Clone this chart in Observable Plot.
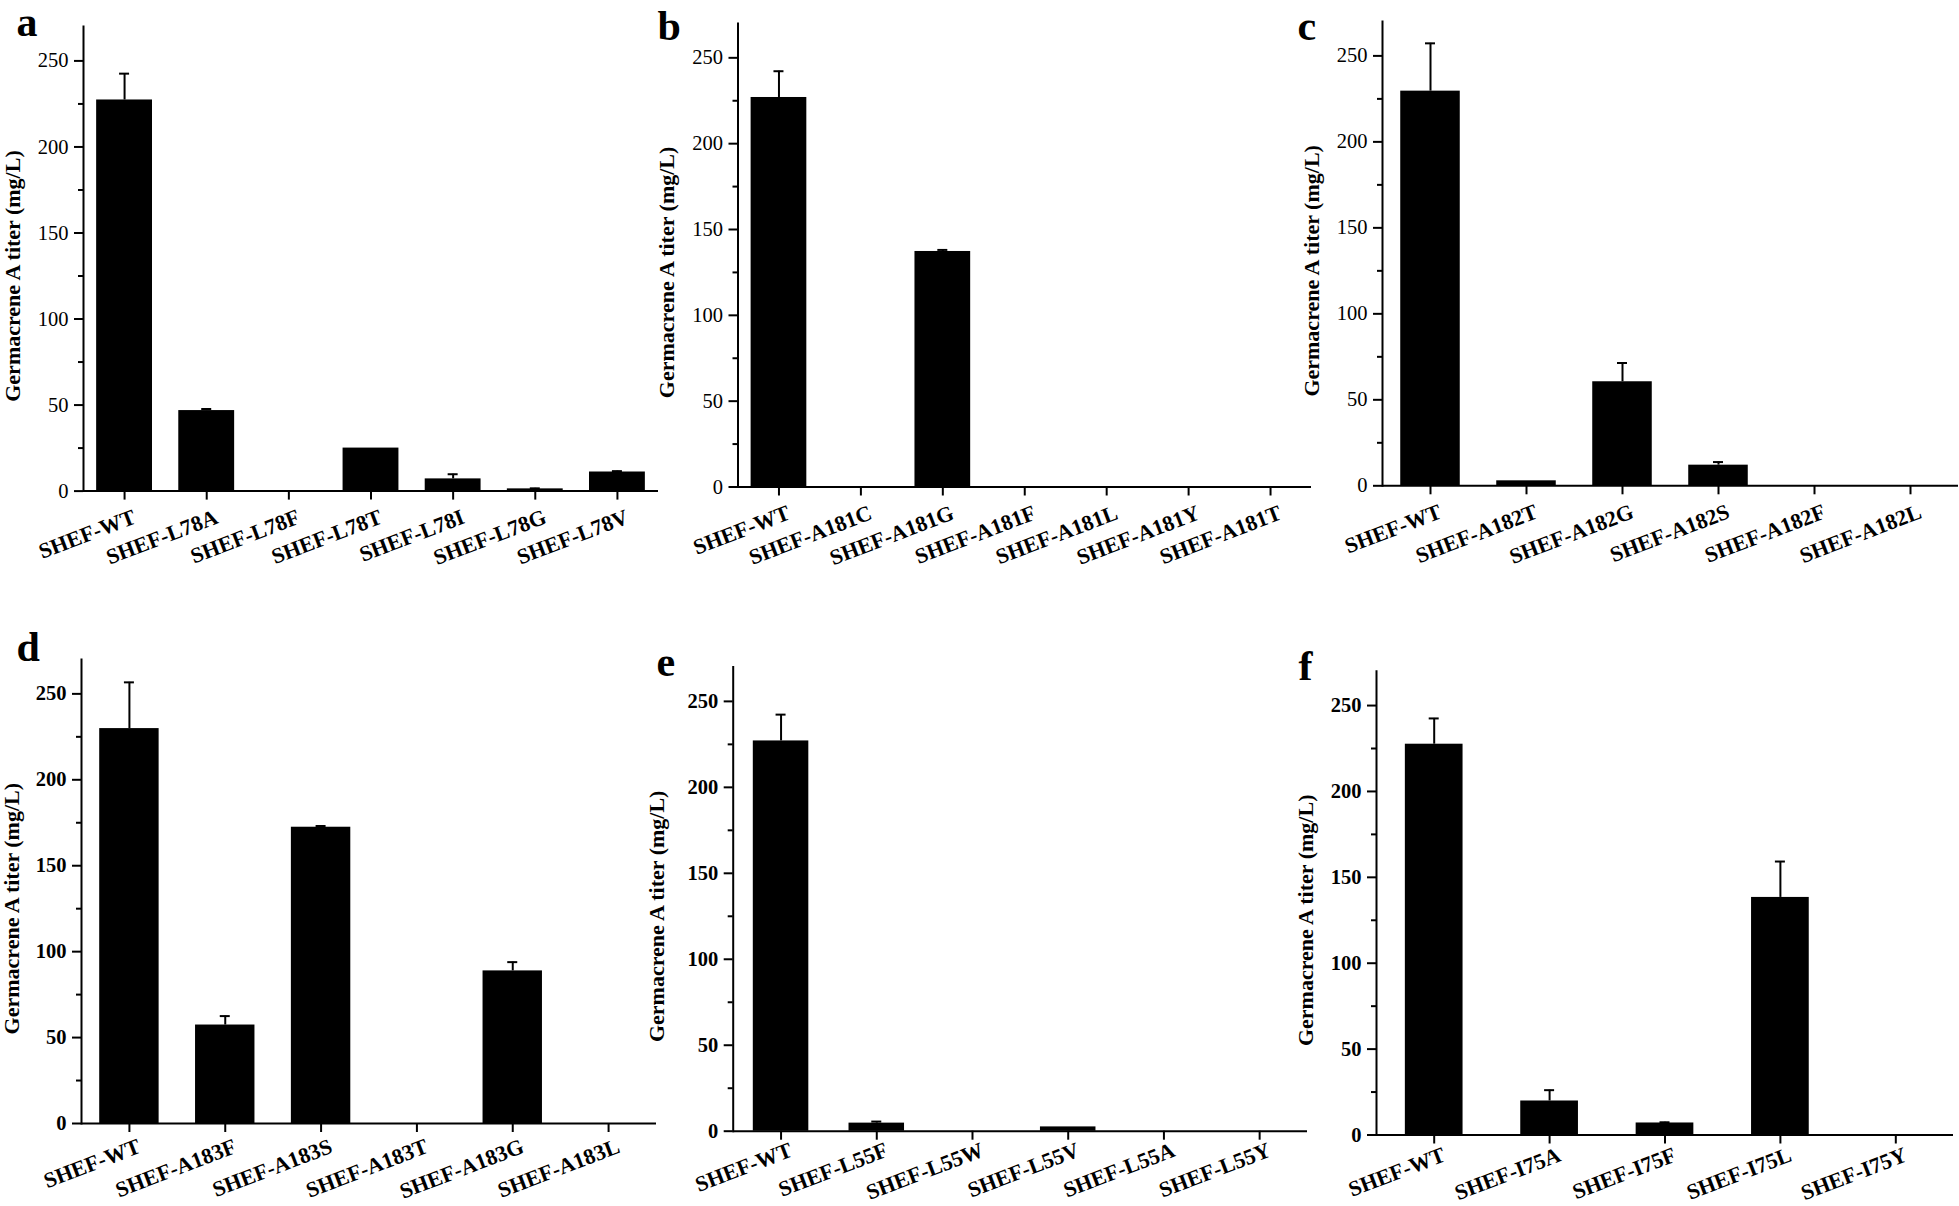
<!DOCTYPE html>
<html><head><meta charset="utf-8">
<script src="https://cdn.jsdelivr.net/npm/d3@7"></script>
<script src="https://cdn.jsdelivr.net/npm/@observablehq/plot@0.6"></script>
<style>
html,body{margin:0;padding:0;background:#fff;}
#fig{position:relative;width:1959px;height:1206px;overflow:hidden;background:#fff;}
#fig svg{position:absolute;}
</style></head><body><div id="fig"></div>
<script>
// ---- data ----
const aNames = ["SHEF-WT","SHEF-L78A","SHEF-L78F","SHEF-L78T","SHEF-L78I","SHEF-L78G","SHEF-L78V"];
const aValues = [227.3, 46.8, 0, 25.0, 7.1, 1.3, 11.1];
const aErrors = [15.3, 0.9, 0, 0, 2.7, 0.3, 0.5];
const bNames = ["SHEF-WT","SHEF-A181C","SHEF-A181G","SHEF-A181F","SHEF-A181L","SHEF-A181Y","SHEF-A181T"];
const bValues = [226.9, 0, 137.2, 0, 0, 0, 0];
const bErrors = [15.3, 0, 0.9, 0, 0, 0, 0];
const cNames = ["SHEF-WT","SHEF-A182T","SHEF-A182G","SHEF-A182S","SHEF-A182F","SHEF-A182L"];
const cValues = [229.5, 2.9, 60.5, 12.0, 0, 0];
const cErrors = [27.8, 0, 10.9, 1.8, 0, 0];
const dNames = ["SHEF-WT","SHEF-A183F","SHEF-A183S","SHEF-A183T","SHEF-A183G","SHEF-A183L"];
const dValues = [229.8, 57.3, 172.4, 0, 88.8, 0];
const dErrors = [26.9, 5.2, 0.7, 0, 5.1, 0];
const eNames = ["SHEF-WT","SHEF-L55F","SHEF-L55W","SHEF-L55V","SHEF-L55A","SHEF-L55Y"];
const eValues = [227.0, 4.7, 0, 2.5, 0, 0];
const eErrors = [15.3, 0.9, 0, 0, 0, 0];
const fNames = ["SHEF-WT","SHEF-I75A","SHEF-I75F","SHEF-I75L","SHEF-I75Y"];
const fValues = [227.5, 19.8, 7.0, 138.3, 0];
const fErrors = [15.0, 6.3, 0.4, 20.9, 0];
const yMajorTicks = [0, 50, 100, 150, 200, 250];
const yMinorTicks = [25, 75, 125, 175, 225];
const yTitle = "Germacrene A titer (mg/L)";
const panelLetters = ["a", "b", "c", "d", "e", "f"];

// ---- layout (pixel geometry of each panel) ----
const layout = [
  {names: aNames, values: aValues, errors: aErrors, ax: 83, yt: 26, yb: 490.6, xe: 658, pad: 0.32, lx: 16, lb: 35, tdx: -71, boldY: false, tp: 25},
  {names: bNames, values: bValues, errors: bErrors, ax: 737.5, yt: 23, yb: 486.5, xe: 1311, pad: 0.32, lx: 657, lb: 39, tdx: -71, boldY: false, tp: 25},
  {names: cNames, values: cValues, errors: cErrors, ax: 1382, yt: 21, yb: 485.3, xe: 1958, pad: 0.38, lx: 1297, lb: 39, tdx: -71, boldY: false, tp: 25},
  {names: dNames, values: dValues, errors: dErrors, ax: 81, yt: 659, yb: 1123, xe: 656, pad: 0.38, lx: 16, lb: 660, tdx: -70, boldY: true, tp: 22},
  {names: eNames, values: eValues, errors: eErrors, ax: 732.7, yt: 666.5, yb: 1130.7, xe: 1307, pad: 0.42, lx: 656, lb: 675, tdx: -76, boldY: true, tp: 18},
  {names: fNames, values: fValues, errors: fErrors, ax: 1376, yt: 670.7, yb: 1134.5, xe: 1953, pad: 0.5, lx: 1298, lb: 679, tdx: -71, boldY: true, tp: 19}
];

const FONT = "'Liberation Serif', 'Times New Roman', Times, serif";
const fig = document.getElementById("fig");

layout.forEach((p, k) => {
  const data = p.names.map((n, i) => ({name: n, value: p.values[i], err: p.errors[i], top: p.values[i] + p.errors[i]}));
  const errData = data.filter(d => d.err > 0);
  const L = Math.round(p.ax - 100), T = Math.round(p.yt - 60);
  const mL = p.ax - L, mT = p.yt - T, mR = 10, mB = 110;
  const W = Math.round(p.xe - p.ax + mL + mR);
  const H = Math.round(p.yb - p.yt + mT + mB);
  const mBr = H - (p.yb - T);
  const mRr = W - (p.xe - L);
  const step = (p.xe - p.ax) / p.names.length;
  const bw = step * (1 - p.pad);
  const capW = 10;
  const inset = (bw - capW) / 2;
  const LF = 42;

  const chart = Plot.plot({
    width: W, height: H,
    marginLeft: mL, marginTop: mT, marginRight: mRr, marginBottom: mBr,
    style: {fontFamily: FONT, background: "transparent", overflow: "visible", color: "black"},
    x: {type: "band", domain: p.names, paddingInner: p.pad, paddingOuter: p.pad / 2, align: 0.5, round: false, label: null},
    y: {domain: [0, 270], label: null},
    marks: [
      Plot.barY(data, {x: "name", y: "value", fill: "black"}),
      Plot.ruleX(errData, {x: "name", y1: "value", y2: "top", stroke: "black", strokeWidth: 2}),
      Plot.tickY(errData, {x: "name", y: "top", stroke: "black", strokeWidth: 2, insetLeft: inset, insetRight: inset}),
      Plot.frame({anchor: "left", stroke: "black", strokeWidth: 2}),
      Plot.ruleY([0], {stroke: "black", strokeWidth: 2}),
      Plot.axisY({ticks: yMinorTicks, tickSize: 5, tickFormat: () => "", strokeWidth: 2, label: null}),
      Plot.axisY({ticks: yMajorTicks, tickSize: 9, tickPadding: 6, strokeWidth: 2, fontSize: 20.5,
        fontWeight: p.boldY ? "bold" : "normal", fontFamily: FONT, label: null, tickFormat: d => String(d)}),
      Plot.axisX({tickSize: 9, tickFormat: () => "", strokeWidth: 2, label: null}),
      Plot.axisX({tickSize: 0, tickPadding: p.tp, tickRotate: -21, dx: 10, fontSize: 22, fontWeight: "bold",
        fontFamily: FONT, label: null}),
      Plot.text([yTitle], {text: d => d, y: () => 125, frameAnchor: "left", textAnchor: "middle", lineAnchor: "middle",
        dx: p.tdx, rotate: -90, fontSize: 22, fontWeight: "bold", fontFamily: FONT}),
      Plot.text([panelLetters[k]], {text: d => d, frameAnchor: "top-left", dx: p.lx - p.ax, lineAnchor: "middle",
        dy: (p.lb - p.yt) - 0.32 * LF, textAnchor: "start", fontSize: LF, fontWeight: "bold", fontFamily: FONT})
    ]
  });
  chart.style.left = L + "px";
  chart.style.top = T + "px";
  chart.style.maxWidth = "none";
  fig.appendChild(chart);
});
</script>
</body></html>
